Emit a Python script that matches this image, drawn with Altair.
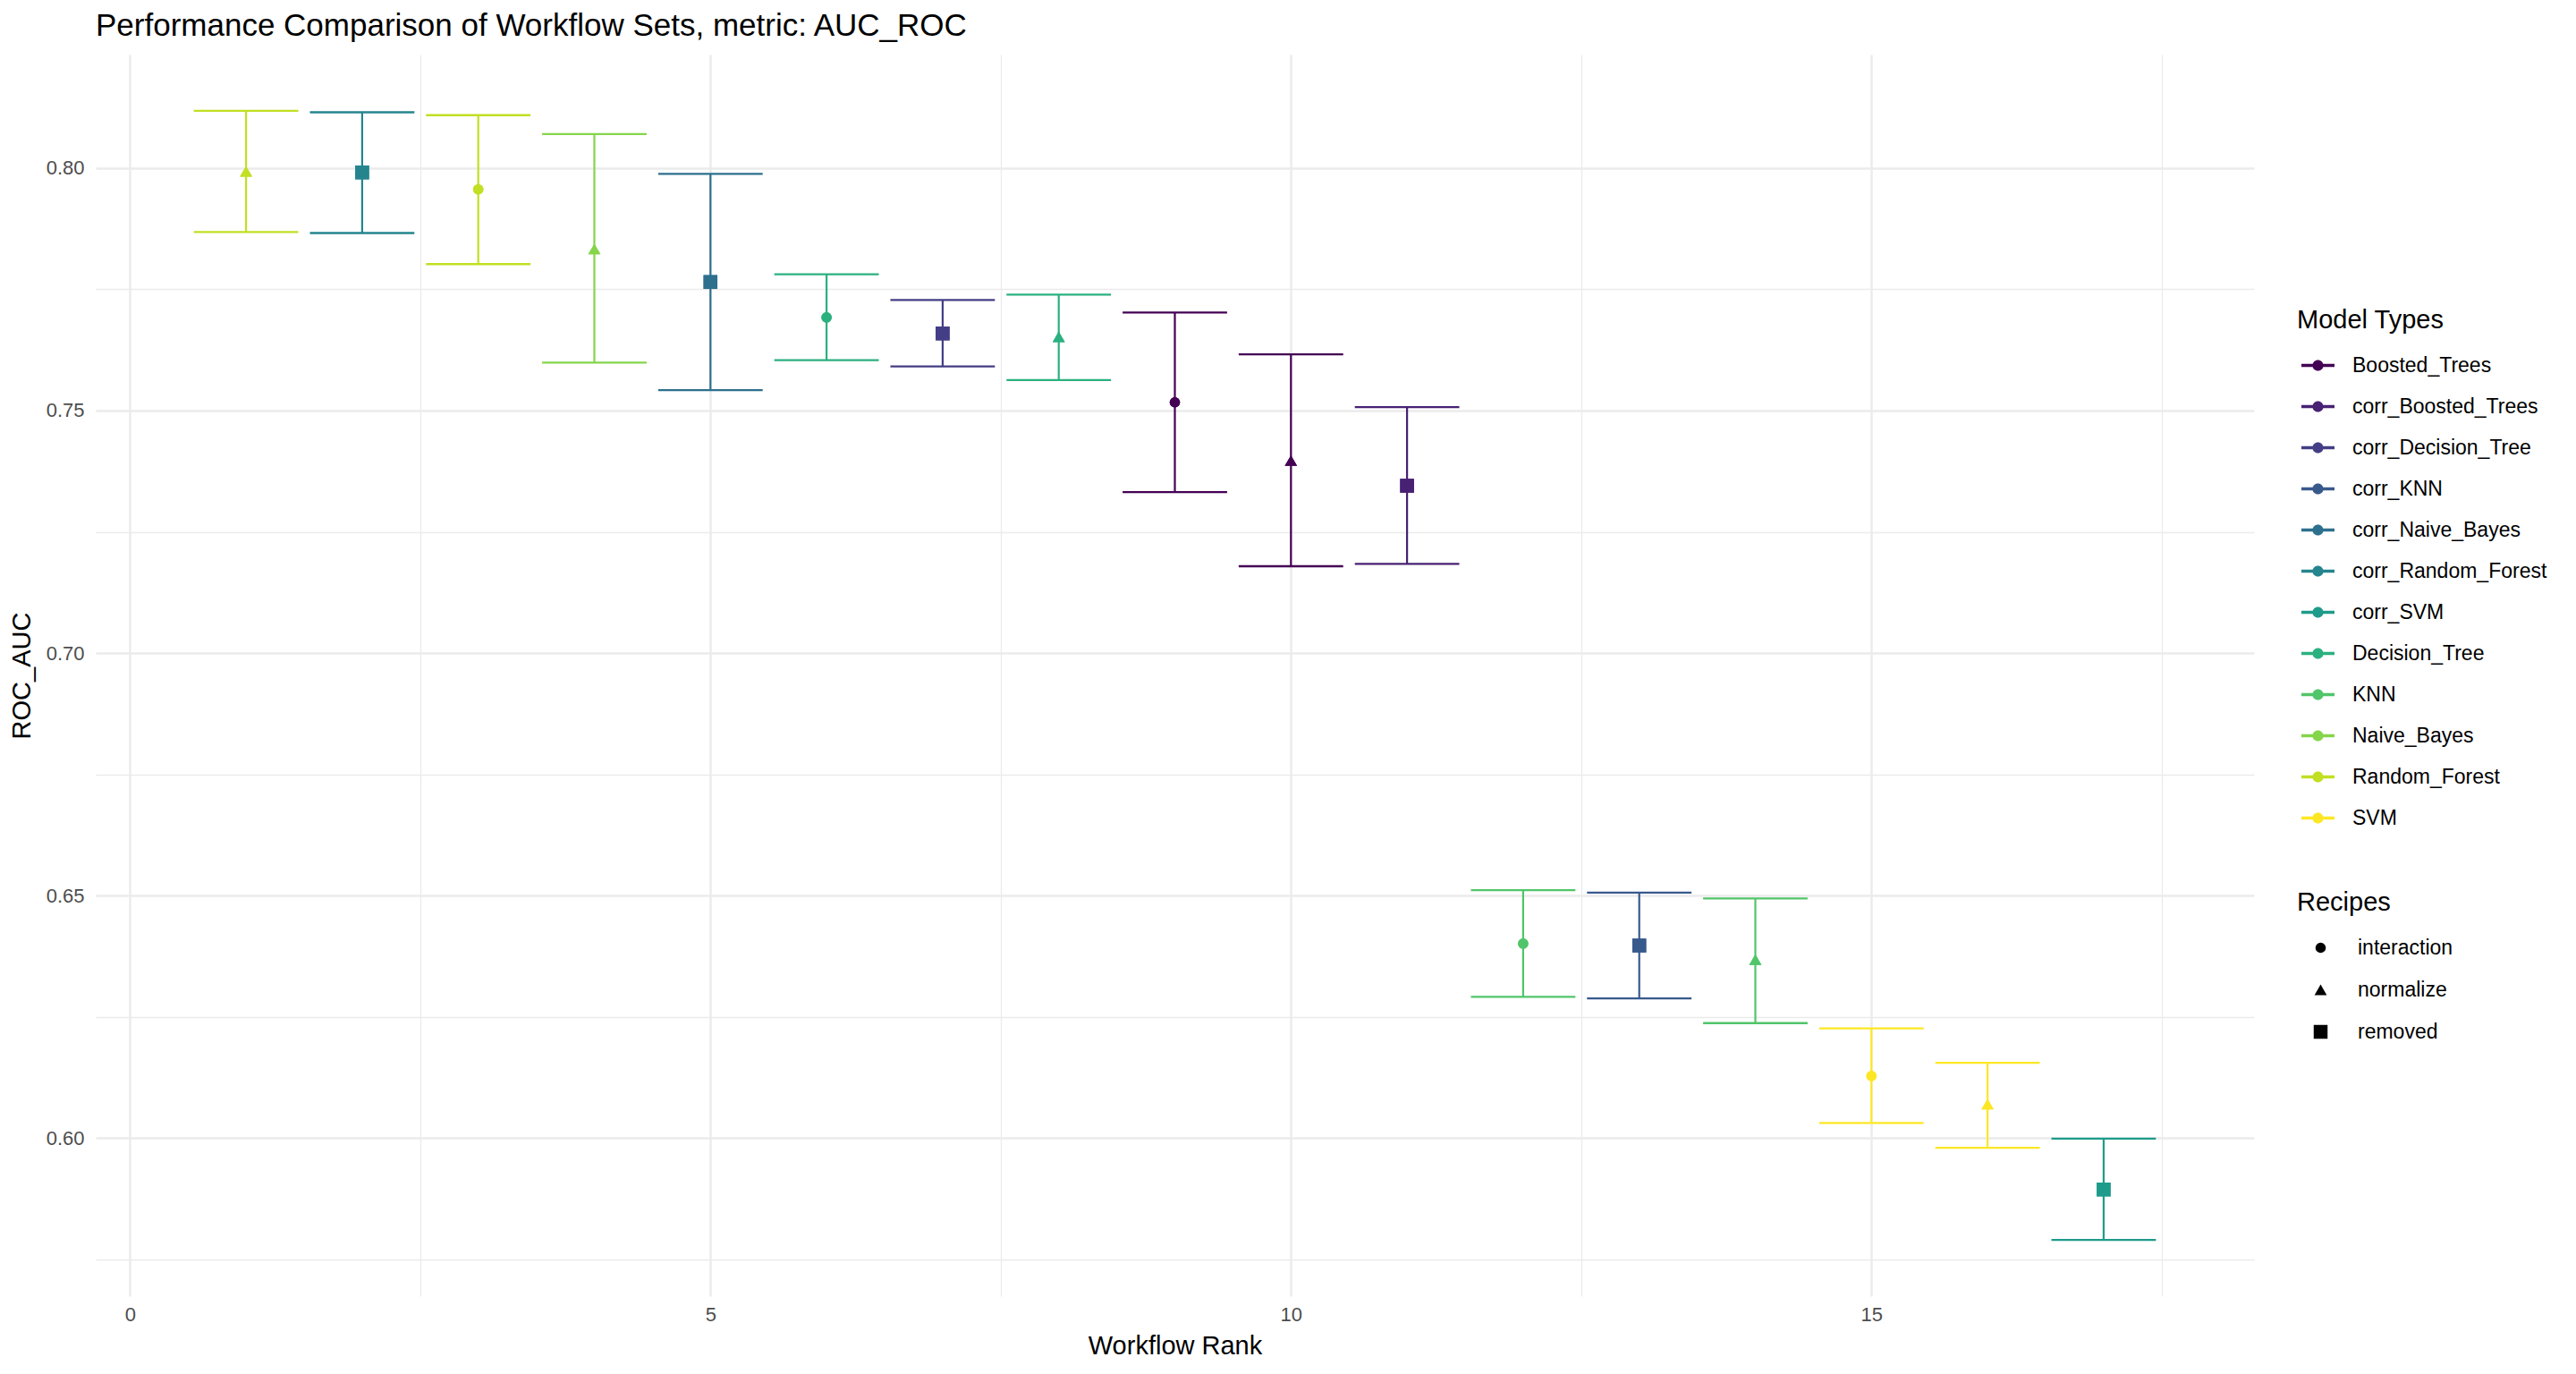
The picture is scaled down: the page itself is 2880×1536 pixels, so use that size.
import altair as alt
import pandas as pd

ranks = list(range(1, 18))
models = ["Random_Forest", "corr_Random_Forest", "Random_Forest", "Naive_Bayes",
          "corr_Naive_Bayes", "Decision_Tree", "corr_Decision_Tree", "Decision_Tree",
          "Boosted_Trees", "Boosted_Trees", "corr_Boosted_Trees", "KNN", "corr_KNN",
          "KNN", "SVM", "SVM", "corr_SVM"]
recipes = ["normalize", "removed", "interaction", "normalize", "removed",
           "interaction", "removed", "normalize", "interaction", "normalize",
           "removed", "interaction", "removed", "normalize", "interaction",
           "normalize", "removed"]
means = [0.7993, 0.7991, 0.7956, 0.7833, 0.7765, 0.7692, 0.7659, 0.7652, 0.7517,
         0.7397, 0.7345, 0.6401, 0.6397, 0.6368, 0.6128, 0.6070, 0.5894]
lowers = [0.7868, 0.7866, 0.7802, 0.7599, 0.7542, 0.7604, 0.7591, 0.7563, 0.7332,
          0.7179, 0.7184, 0.6291, 0.6288, 0.6237, 0.6031, 0.5980, 0.5790]
uppers = [0.8118, 0.8115, 0.8109, 0.8070, 0.7988, 0.7781, 0.7728, 0.7739, 0.7702,
          0.7616, 0.7507, 0.6511, 0.6506, 0.6494, 0.6226, 0.6155, 0.5999]

model_order = ["Boosted_Trees", "corr_Boosted_Trees", "corr_Decision_Tree", "corr_KNN",
               "corr_Naive_Bayes", "corr_Random_Forest", "corr_SVM", "Decision_Tree",
               "KNN", "Naive_Bayes", "Random_Forest", "SVM"]
viridis = ["#440154", "#482173", "#433E85", "#38598C", "#2D708E", "#25858E",
           "#1E9B8A", "#2BB07F", "#51C56A", "#85D54A", "#C2DF23", "#FDE725"]
recipe_order = ["interaction", "normalize", "removed"]
recipe_shapes = ["circle", "triangle-up", "square"]
recipe_sizes = [135, 240, 100]

df = pd.DataFrame({"rank": ranks, "model": models, "recipe": recipes,
                   "mean": means, "lower": lowers, "upper": uppers})

FONT = "Liberation Sans"
GRID = "#EBEBEB"

x_axis = alt.Axis(
    values=[0, 2.5, 5, 7.5, 10, 12.5, 15, 17.5],
    labelExpr="datum.value % 5 === 0 ? format(datum.value, 'd') : ''",
    grid=True, gridColor=GRID,
    gridWidth={"condition": {"test": "datum.value % 5 === 0", "value": 2.4}, "value": 1.3},
    domain=False, ticks=False, labelFontSize=22, labelColor="#4D4D4D",
    labelFont=FONT, labelPadding=10, titleFont=FONT, titleFontSize=29,
    titleFontWeight="normal", titleColor="black", titlePadding=10,
)
y_axis = alt.Axis(
    values=[0.575, 0.6, 0.625, 0.65, 0.675, 0.7, 0.725, 0.75, 0.775, 0.8],
    labelExpr="abs(round(datum.value * 1000) % 50) === 0 ? format(datum.value, '.2f') : ''",
    grid=True, gridColor=GRID,
    gridWidth={"condition": {"test": "abs(round(datum.value * 1000) % 50) === 0", "value": 2.4},
               "value": 1.3},
    domain=False, ticks=False, labelFontSize=22, labelColor="#4D4D4D",
    labelFont=FONT, labelPadding=13, titleFont=FONT, titleFontSize=29,
    titleFontWeight="normal", titleColor="black", titlePadding=12,
)

xs = alt.Scale(domain=[-0.295, 18.295], nice=False, zero=False)
ys = alt.Scale(domain=[0.5674, 0.8234], nice=False, zero=False)

color_legend = alt.Legend(
    title="Model Types", orient="none", legendX=2461, legendY=283,
    titleFont=FONT, titleFontSize=29, titleFontWeight="normal", titleColor="black",
    titlePadding=17, labelFont=FONT, labelFontSize=23, labelColor="black", labelLimit=0,
    symbolType="M-1,-0.09L1,-0.09L1,0.09L-1,0.09Z M-0.33,0A0.33,0.33,0,1,1,0.33,0A0.33,0.33,0,1,1,-0.33,0Z",
    symbolSize=1369, symbolStrokeWidth=0, symbolOpacity=1, rowPadding=15,
    symbolOffset=5, labelOffset=20,
)
shape_legend = alt.Legend(
    title="Recipes", orient="none", legendX=2461, legendY=934,
    titleFont=FONT, titleFontSize=29, titleFontWeight="normal", titleColor="black",
    titlePadding=24, labelFont=FONT, labelFontSize=23, labelColor="black", labelLimit=0,
    symbolFillColor="black", symbolStrokeColor="black",
    symbolStrokeWidth=0, symbolOpacity=1, rowPadding=23, labelOffset=30, symbolOffset=15,
)

color_enc = alt.Color("model:N", scale=alt.Scale(domain=model_order, range=viridis),
                      legend=color_legend)

base = alt.Chart(df).transform_calculate(
    xl="datum.rank - 0.45", xr="datum.rank + 0.45"
)

pts = base.mark_point(filled=True, opacity=1).encode(
    x=alt.X("rank:Q", scale=xs, axis=x_axis, title="Workflow Rank"),
    y=alt.Y("mean:Q", scale=ys, axis=y_axis, title="ROC_AUC"),
    color=color_enc,
    shape=alt.Shape("recipe:N", scale=alt.Scale(domain=recipe_order, range=recipe_shapes),
                    legend=shape_legend),
    size=alt.Size("recipe:N", scale=alt.Scale(domain=recipe_order, range=recipe_sizes),
                  legend=shape_legend),
)
vbar = base.mark_rule(strokeWidth=2.2).encode(
    x=alt.X("rank:Q", scale=xs),
    y=alt.Y("lower:Q", scale=ys),
    y2="upper:Q",
    color=color_enc,
)
cap_hi = base.mark_rule(strokeWidth=2.3).encode(
    x=alt.X("xl:Q", scale=xs), x2="xr:Q",
    y=alt.Y("upper:Q", scale=ys), color=color_enc,
)
cap_lo = base.mark_rule(strokeWidth=2.3).encode(
    x=alt.X("xl:Q", scale=xs), x2="xr:Q",
    y=alt.Y("lower:Q", scale=ys), color=color_enc,
)

chart = alt.layer(pts, vbar, cap_hi, cap_lo, pts).properties(
    width=2413, height=1388,
    background="white",
    title=alt.TitleParams("Performance Comparison of Workflow Sets, metric: AUC_ROC",
                          anchor="start", frame="group", font=FONT, fontSize=35,
                          fontWeight="normal", color="black", offset=14),
    autosize=alt.AutoSizeParams(type="none"),
    padding={"left": 99, "top": 53, "right": 352, "bottom": 79},
).configure_view(strokeWidth=0, stroke=None)

chart.save("out.html", embed_options={"renderer": "svg", "actions": False})
